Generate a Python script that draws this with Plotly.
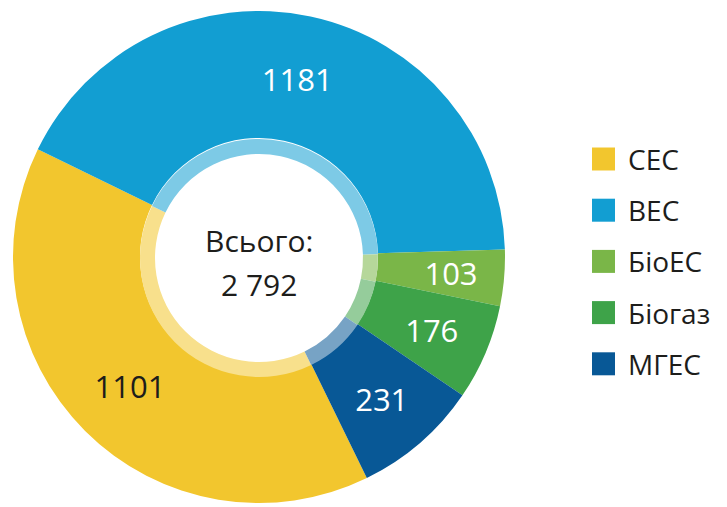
import plotly.graph_objects as go

# ---- data ----
labels = ["СЕС", "ВЕС", "БіоЕС", "Біогаз", "МГЕС"]
values = [1101, 1181, 103, 176, 231]
total_label = "Всього:"

# ---- styles ----
colors = ["#f2c62e", "#129ed2", "#7ab648", "#3ea349", "#085896"]
text_colors = ["#1d1d1b", "white", "white", "white", "white"]
big_slice = [True, True, False, False, False]   # label placement group
FONT = "Open Sans"
WIN_W, WIN_H = 727, 507
OFF = 8                      # default body margin of the html page
W, H = WIN_W - OFF, WIN_H - OFF
ROT = 154


def px(x):
    return (x - OFF) / W


def py(y):
    return 1 - (y - OFF) / H


def lighten(hex_color, keep=0.55):
    h = hex_color.lstrip("#")
    r, g, b = (int(h[i:i + 2], 16) for i in (0, 2, 4))
    mix = lambda c: int(round(c * keep + 255 * (1 - keep)))
    return "#{:02x}{:02x}{:02x}".format(mix(r), mix(g), mix(b))


light_colors = [lighten(c) for c in colors]

cx, cy = 259, 257          # pixel centre of the donut (window coords)
R_out, R_ring, R_hole = 246, 119, 104
R_txt_out, R_txt_in = 215, 160   # invisible ring that carries the small labels


def dom(r, cxp, cyp):
    return dict(x=[px(cxp - r), px(cxp + r)], y=[py(cyp + r), py(cyp - r)])


tfont = dict(family=FONT, size=31, color=text_colors)

fig = go.Figure()

# main coloured ring (labels of the big slices)
fig.add_trace(go.Pie(
    labels=labels, values=values, sort=False, direction="clockwise",
    rotation=ROT, hole=R_ring / R_out, domain=dom(R_out, cx, cy),
    marker=dict(colors=colors, line=dict(width=0)),
    texttemplate=["%{value}" if b else "" for b in big_slice],
    textposition="inside", insidetextorientation="horizontal",
    textfont=tfont, showlegend=False, hoverinfo="label+value",
))

# light inner ring
fig.add_trace(go.Pie(
    labels=labels, values=values, sort=False, direction="clockwise",
    rotation=ROT, hole=R_hole / R_ring, domain=dom(R_ring, cx, cy + 1),
    marker=dict(colors=light_colors, line=dict(width=0)),
    textinfo="none", showlegend=False, hoverinfo="skip",
))

# transparent ring holding the labels of the narrow slices
fig.add_trace(go.Pie(
    labels=labels, values=values, sort=False, direction="clockwise",
    rotation=ROT, hole=R_txt_in / R_txt_out, domain=dom(R_txt_out, cx, cy),
    marker=dict(colors=["rgba(0,0,0,0)"] * len(values), line=dict(width=0)),
    texttemplate=["" if b else "%{value}" for b in big_slice],
    textposition="inside", insidetextorientation="horizontal",
    textfont=tfont, showlegend=False, hoverinfo="skip",
))

total = sum(values)
total_txt = f"{total:,}".replace(",", " ")

annotations = [
    dict(x=px(cx), y=py(240), xref="paper", yref="paper", text=total_label,
         showarrow=False, font=dict(family=FONT, size=30, color="#1d1d1b"),
         xanchor="center", yanchor="middle"),
    dict(x=px(cx), y=py(284), xref="paper", yref="paper", text=total_txt,
         showarrow=False, font=dict(family=FONT, size=30, color="#1d1d1b"),
         xanchor="center", yanchor="middle"),
]

shapes = []
leg_x0, leg_y0, leg_dy, sq = 592, 159, 51.2, 23
for i, (lab, col) in enumerate(zip(labels, colors)):
    yc = leg_y0 + i * leg_dy
    shapes.append(dict(type="rect", xref="paper", yref="paper",
                       x0=px(leg_x0), x1=px(leg_x0 + sq),
                       y0=py(yc + sq / 2), y1=py(yc - sq / 2),
                       fillcolor=col, line=dict(width=0)))
    annotations.append(dict(x=px(leg_x0 + sq + 11), y=py(yc),
                            xref="paper", yref="paper", text=lab,
                            showarrow=False, xanchor="left", yanchor="middle",
                            font=dict(family=FONT, size=28, color="#1d1d1b")))

fig.update_layout(
    width=W, height=H, margin=dict(l=0, r=0, t=0, b=0),
    paper_bgcolor="white", plot_bgcolor="white",
    annotations=annotations, shapes=shapes, showlegend=False,
    uniformtext=dict(minsize=31, mode="show"),
)

fig.write_html("out.html")
